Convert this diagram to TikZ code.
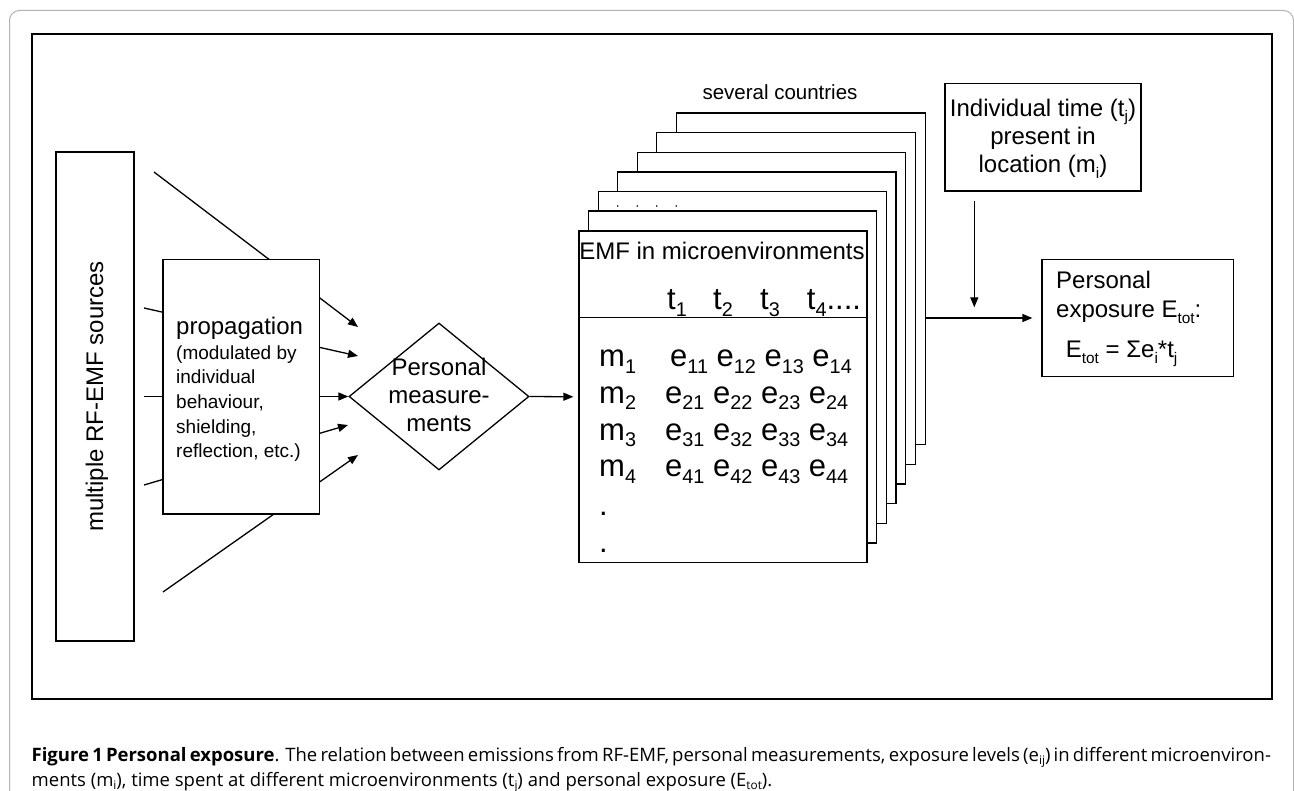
\documentclass[tikz,border=0pt]{standalone}
\usepackage{graphicx}
\usepackage{fontspec}
\setmainfont{Liberation Sans}
\newfontfamily\capfont{Open Sans}
\usetikzlibrary{arrows.meta,shapes.geometric,fit}
\newcommand\sbs[1]{\raisebox{-0.4ex}{\scalebox{0.64}{#1}}}
\newcommand\fA{\fontsize{24}{28}\selectfont}
\newcommand\fB{\fontsize{19}{24.6}\selectfont}
\newcommand\fC{\fontsize{31}{36.7}\selectfont}
\newcommand\fD{\fontsize{20.5}{24}\selectfont}
\newcommand\fCap{\capfont\fontsize{18.5}{22}\selectfont}
\begin{document}
\begin{tikzpicture}[x=1pt,y=-1pt,
  box/.style={draw,line width=1.3pt,fill=white,inner sep=0pt},
  ln/.style={line width=1.3pt},
  arr/.style={line width=1.3pt,-{Triangle[length=10pt,width=8pt]}},
  txt/.style={inner sep=0pt,anchor=base west},
  ctxt/.style={inner sep=0pt,anchor=base}]
\useasboundingbox (0,0) rectangle (1294,791);
% outer gray frame
\draw[gray!60,line width=1pt,rounded corners=10pt] (9.5,800) -- (9.5,10.5) -- (1293.5,10.5) -- (1293.5,800);
% inner frame
\node[box,fill=none,fit={(32,34) (1272,699)}] (frame) {};
% sources
\node[box,fit={(56,152) (134,641)}] (src) {};
\node[inner sep=0pt,rotate=90,font=\fA] (srctxt) at (97,396.5) {multiple RF-EMF sources};
% diamond
\node[diamond,draw,line width=1.3pt,minimum width=180pt,minimum height=147pt,inner sep=0pt] (pm) at (439,396.5) {};
% lines from sources
\coordinate (a1) at (154,172);  \coordinate (b1) at (358,327);
\coordinate (a2) at (144,308);  \coordinate (b2) at (358,356);
\coordinate (a3) at (144,396.5);
\coordinate (a4) at (144,485);  \coordinate (b4) at (348,425);
\coordinate (a5) at (163,592);  \coordinate (b5) at (358,455);
\draw[arr] (a1) -- (b1);
\draw[arr] (a2) -- (b2);
\draw[arr] (a3) -- (pm.west);
\draw[arr] (a4) -- (b4);
\draw[arr] (a5) -- (b5);
% propagation box
\node[box,fit={(163,259.6) (319.6,514)}] (prop) {};
\node[txt,font=\fA] (p1) at (176,334.6) {propagation};
\node[txt,font=\fB] (p2) at (176,359.6) {(modulated by};
\node[txt,font=\fB] (p3) at (176,383.8) {individual};
\node[txt,font=\fB] (p4) at (176,408.6) {behaviour,};
\node[txt,font=\fB] (p5) at (176,433.2) {shielding,};
\node[txt,font=\fB] (p6) at (176,457.8) {reflection, etc.)};
% diamond text
\node[ctxt,font=\fA] (pm1) at (439,376) {Personal};
\node[ctxt,font=\fA] (pm2) at (439,404) {measure-};
\node[ctxt,font=\fA] (pm3) at (439,432) {ments};
% stack
\node[ctxt,font=\fD] (sev) at (780,100) {several countries};
\node[box,fit={(676.3,113) (925.7,444.6)}] (s6) {};
\node[box,fit={(656.7,132.7) (915.7,464.3)}] (s5) {};
\node[box,fit={(637.3,152.3) (905.7,483.9)}] (s4) {};
\node[box,fit={(617.7,172) (896,503.6)}] (s3) {};
\node[box,fit={(598.3,191.7) (886.3,523.2)}] (s2) {};
\foreach \x [count=\i] in {617.7,637.3,656.7,676.3}
  \fill (\x,206) circle (0.9pt) coordinate (dot\i);
\node[box,fit={(588.3,211) (876.3,542.9)}] (s1) {};
\node[box,fit={(579,231) (867,562.6)}] (s0) {};
\draw[ln] (s0.west |- 0,317.7) -- (s0.east |- 0,317.7);
\node[ctxt,font=\fA] (emf) at (722,260) {EMF in microenvironments};
\node[txt,font=\fC] (t1) at (667,310) {t\sbs{1}};
\node[txt,font=\fC] (t2) at (713,310) {t\sbs{2}};
\node[txt,font=\fC] (t3) at (760,310) {t\sbs{3}};
\node[txt,font=\fC] (t4) at (806.7,310) {t\sbs{4}....};
\node[txt,font=\fC] (m1) at (599,366.7) {m\sbs{1}};
\node[txt,font=\fC] (m2) at (599,403.4) {m\sbs{2}};
\node[txt,font=\fC] (m3) at (599,440.1) {m\sbs{3}};
\node[txt,font=\fC] (m4) at (599,476.8) {m\sbs{4}};
\node[txt,font=\fC] (md1) at (599,515) {.};
\node[txt,font=\fC] (md2) at (599,552) {.};
\node[txt,font=\fC] (e1) at (670,366.7) {e\sbs{11} e\sbs{12} e\sbs{13} e\sbs{14}};
\node[txt,font=\fC] (e2) at (665,403.4) {e\sbs{21} e\sbs{22} e\sbs{23} e\sbs{24}};
\node[txt,font=\fC] (e3) at (665,440.1) {e\sbs{31} e\sbs{32} e\sbs{33} e\sbs{34}};
\node[txt,font=\fC] (e4) at (665,476.8) {e\sbs{41} e\sbs{42} e\sbs{43} e\sbs{44}};
\draw[arr] (pm.east) -- ([xshift=-5pt]s0.west);
% individual time box
\node[box,fit={(945,83.3) (1141,191)}] (ind) {};
\node[ctxt,font=\fA] (ind1) at (1043,116.7) {Individual time (t\sbs{j})};
\node[ctxt,font=\fA] (ind2) at (1043,145) {present in};
\node[ctxt,font=\fA] (ind3) at (1043,173) {location (m\sbs{i})};
% personal exposure box
\node[box,fit={(1042,259.3) (1233.7,376.7)}] (pe) {};
\node[txt,font=\fA] (pe1) at (1056,288.7) {Personal};
\node[txt,font=\fA] (pe2) at (1056,318) {exposure E\sbs{tot}:};
\node[txt,font=\fA] (pe3) at (1065.7,358) {E\sbs{tot} = Σe\sbs{i}*t\sbs{j}};
\coordinate (dstart) at (974.3,201);
\coordinate (dend) at (974.3,307.3);
\draw[arr] (dstart) -- (dend);
\draw[arr] (s6.east |- pe.west) -- ([xshift=-9pt]pe.west);
% caption
\node[txt,font=\fCap] (cap1) at (31.5,761) {\makebox[1224pt][s]{\textbf{Figure 1 Personal exposure}. The relation between emissions from RF-EMF, personal measurements, exposure levels (e\sbs{ij}) in different microenviron-}};
\node[txt,font=\fCap] (cap2) at (31.5,786) {ments (m\sbs{i}), time spent at different microenvironments (t\sbs{j}) and personal exposure (E\sbs{tot}).};
\end{tikzpicture}
\end{document}
